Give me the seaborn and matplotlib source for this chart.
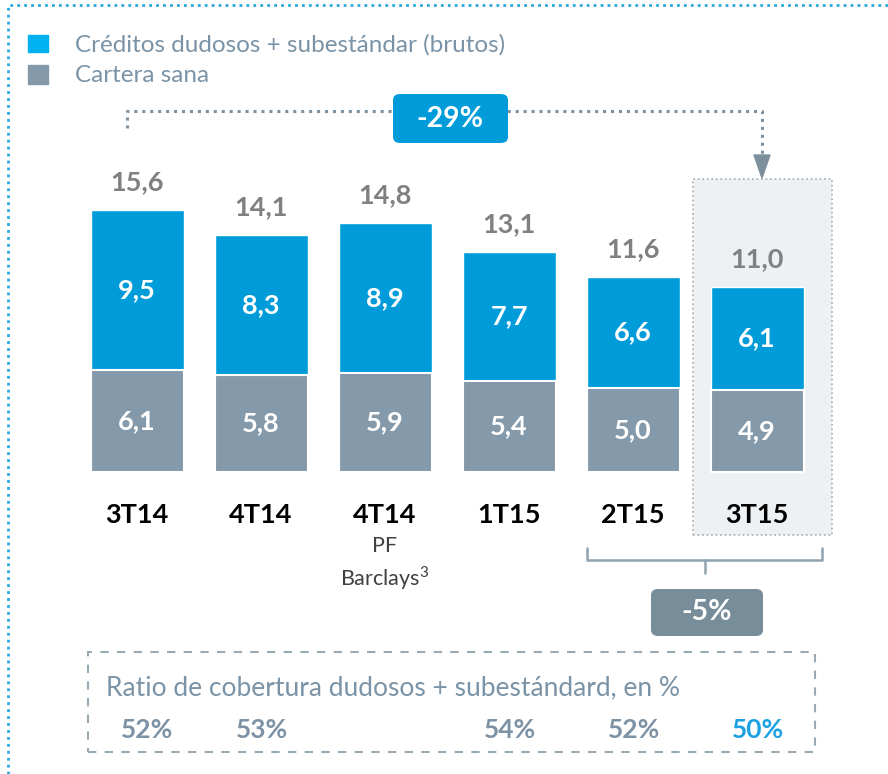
import matplotlib
matplotlib.use("Agg")
import matplotlib.pyplot as plt
from matplotlib.patches import Rectangle, FancyBboxPatch, Polygon
from matplotlib.lines import Line2D
import seaborn as sns
import pandas as pd

# Datos del gráfico
periodos = ["3T14", "4T14", "4T14 PF", "1T15", "2T15", "3T15"]
etiquetas = ["3T14", "4T14", "4T14", "1T15", "2T15", "3T15"]
dudosos = [9.5, 8.3, 8.9, 7.7, 6.6, 6.1]
cartera_sana = [6.1, 5.8, 5.9, 5.4, 5.0, 4.9]
totales = [15.6, 14.1, 14.8, 13.1, 11.6, 11.0]
cobertura = [52, 53, None, 54, 52, 50]

AZUL = "#009CDA"
AZUL_LEYENDA = "#00B0F0"
GRIS = "#8499A9"
GRIS_TEXTO = "#7A93A6"
GRIS_NUM = "#808080"

W, H = 888, 774
sns.set_style("white")
plt.rcParams['font.family'] = ['Lato', 'DejaVu Sans']
plt.rcParams['mathtext.fontset'] = 'custom'
plt.rcParams['mathtext.rm'] = 'Lato'

fig = plt.figure(figsize=(W / 100, H / 100), dpi=100)
ax = fig.add_axes([0, 0, 1, 1])

df = pd.DataFrame({"periodo": periodos, "total": totales, "sana": cartera_sana})
sns.barplot(data=df, x="periodo", y="total", color=AZUL, width=0.75,
            saturation=1, ax=ax, zorder=2)
sns.barplot(data=df, x="periodo", y="sana", color=GRIS, width=0.75,
            saturation=1, ax=ax, zorder=3, edgecolor="white", linewidth=1.5)

# escala: centro de barra 0 -> px 137, paso 124 px; base -> px 472, 16.8 px/unidad
ax.set_xlim(-137 / 124, (W - 137) / 124)
ax.set_ylim(-(H - 472) / 16.8, 472 / 16.8)
ax.axis("off")


def fp(x, y):
    return (x / W, 1 - y / H)


tf = fig.transFigure
NUM = 19.5

# valores dentro y encima de las barras
for i in range(len(periodos)):
    ax.text(i, cartera_sana[i] / 2, f"{cartera_sana[i]:.1f}".replace(".", ","),
            ha="center", va="center", color="white", fontsize=NUM, fontweight="bold", zorder=5)
    ax.text(i, cartera_sana[i] + dudosos[i] / 2, f"{dudosos[i]:.1f}".replace(".", ","),
            ha="center", va="center", color="white", fontsize=NUM, fontweight="bold", zorder=5)
    ax.annotate(f"{totales[i]:.1f}".replace(".", ","), (i, totales[i]),
                xytext=(0, 20), textcoords="offset points", ha="center", va="center",
                color=GRIS_NUM, fontsize=NUM, fontweight="bold")
    ax.annotate(etiquetas[i], (i, 0), xytext=(0, -31), textcoords="offset points",
                ha="center", va="center", color="black", fontsize=19.5, fontweight="bold")

ax.annotate("PF", (2, 0), xytext=(0, -53), textcoords="offset points",
            ha="center", va="center", color="#404040", fontsize=15.5)
ax.annotate("Barclays$^3$", (2, 0), xytext=(0, -76), textcoords="offset points",
            ha="center", va="center", color="#404040", fontsize=15.5)

# caja resaltada 3T15
x0, y0 = fp(693, 535)
x1, y1 = fp(832, 179)
ax.add_patch(Rectangle((x0, y0), x1 - x0, y1 - y0, transform=tf, facecolor="#EEF1F3",
                       edgecolor="#B5B5B5", linestyle=(0, (1, 1.5)), linewidth=1.3, zorder=0.5))

# conector -29%
pts = [fp(127, 128), fp(127, 111), fp(762, 111), fp(762, 157)]
ax.add_line(Line2D([p[0] for p in pts], [p[1] for p in pts], transform=tf, color="#7F919E",
                   linestyle=(0, (1, 1.6)), linewidth=2.2, zorder=4))
ax.add_patch(Polygon([fp(754, 155), fp(770, 155), fp(762, 178)], closed=True, transform=tf,
                     color="#7C8F9C", zorder=4))
bx0, by0 = fp(393, 143)
bx1, by1 = fp(508, 94)
ax.add_patch(FancyBboxPatch((bx0, by0), bx1 - bx0, by1 - by0, transform=tf,
                            boxstyle="round,pad=0,rounding_size=0.008",
                            facecolor=AZUL, edgecolor="none", zorder=5))
fig.text(*fp(450, 119), "-29%", ha="center", va="center", color="white",
         fontsize=20.5, fontweight="bold", zorder=6)

# llave 2T15-3T15
llave = [fp(587, 548), fp(587, 560), fp(822, 560), fp(822, 548)]
ax.add_line(Line2D([p[0] for p in llave], [p[1] for p in llave], transform=tf,
                   color="#8FA3B0", linewidth=1.8))
ax.add_line(Line2D([fp(705, 560)[0]] * 2, [fp(705, 560)[1], fp(705, 573)[1]], transform=tf,
                   color="#8FA3B0", linewidth=1.8))
bx0, by0 = fp(651, 636)
bx1, by1 = fp(763, 589)
ax.add_patch(FancyBboxPatch((bx0, by0), bx1 - bx0, by1 - by0, transform=tf,
                            boxstyle="round,pad=0,rounding_size=0.008",
                            facecolor="#778D9A", edgecolor="none", zorder=5))
fig.text(*fp(707, 612), "-5%", ha="center", va="center", color="white",
         fontsize=20.5, fontweight="bold", zorder=6)

# leyenda
ax.add_patch(Rectangle(fp(28, 52), 20 / W, 17 / H, transform=tf, color=AZUL_LEYENDA))
ax.add_patch(Rectangle(fp(28, 84), 20 / W, 19 / H, transform=tf, color=GRIS))
fig.text(*fp(75, 45), "Créditos dudosos + subestándar (brutos)", ha="left", va="center",
         color=GRIS_TEXTO, fontsize=17.5)
fig.text(*fp(75, 75), "Cartera sana", ha="left", va="center", color=GRIS_TEXTO, fontsize=17.5)

# ratio de cobertura
x0, y0 = fp(88, 752)
x1, y1 = fp(815, 652)
ax.add_patch(Rectangle((x0, y0), x1 - x0, y1 - y0, transform=tf, facecolor="none",
                       edgecolor="#9AAAB5", linestyle=(0, (4, 4)), linewidth=1.5))
fig.text(*fp(106, 688), "Ratio de cobertura dudosos + subestándard, en %", ha="left",
         va="center", color=GRIS_TEXTO, fontsize=19)
ytxt = -(730 - 472) / 16.8
for i, v in enumerate(cobertura):
    if v is None:
        continue
    col = "#1BA1E2" if i == len(cobertura) - 1 else "#7D93A5"
    ax.text(i + (0.08 if i == 0 else 0.01), ytxt, f"{v}%", ha="center", va="center",
            color=col, fontsize=19, fontweight="bold")

# borde exterior punteado
ax.add_line(Line2D([fp(8, 0)[0], fp(8, 0)[0], 1], [0, fp(0, 5)[1], fp(0, 5)[1]], transform=tf,
                   color="#2AA8E0", linestyle=(0, (1, 1.5)), linewidth=2, clip_on=False))

fig.savefig("out.png", dpi=100)
